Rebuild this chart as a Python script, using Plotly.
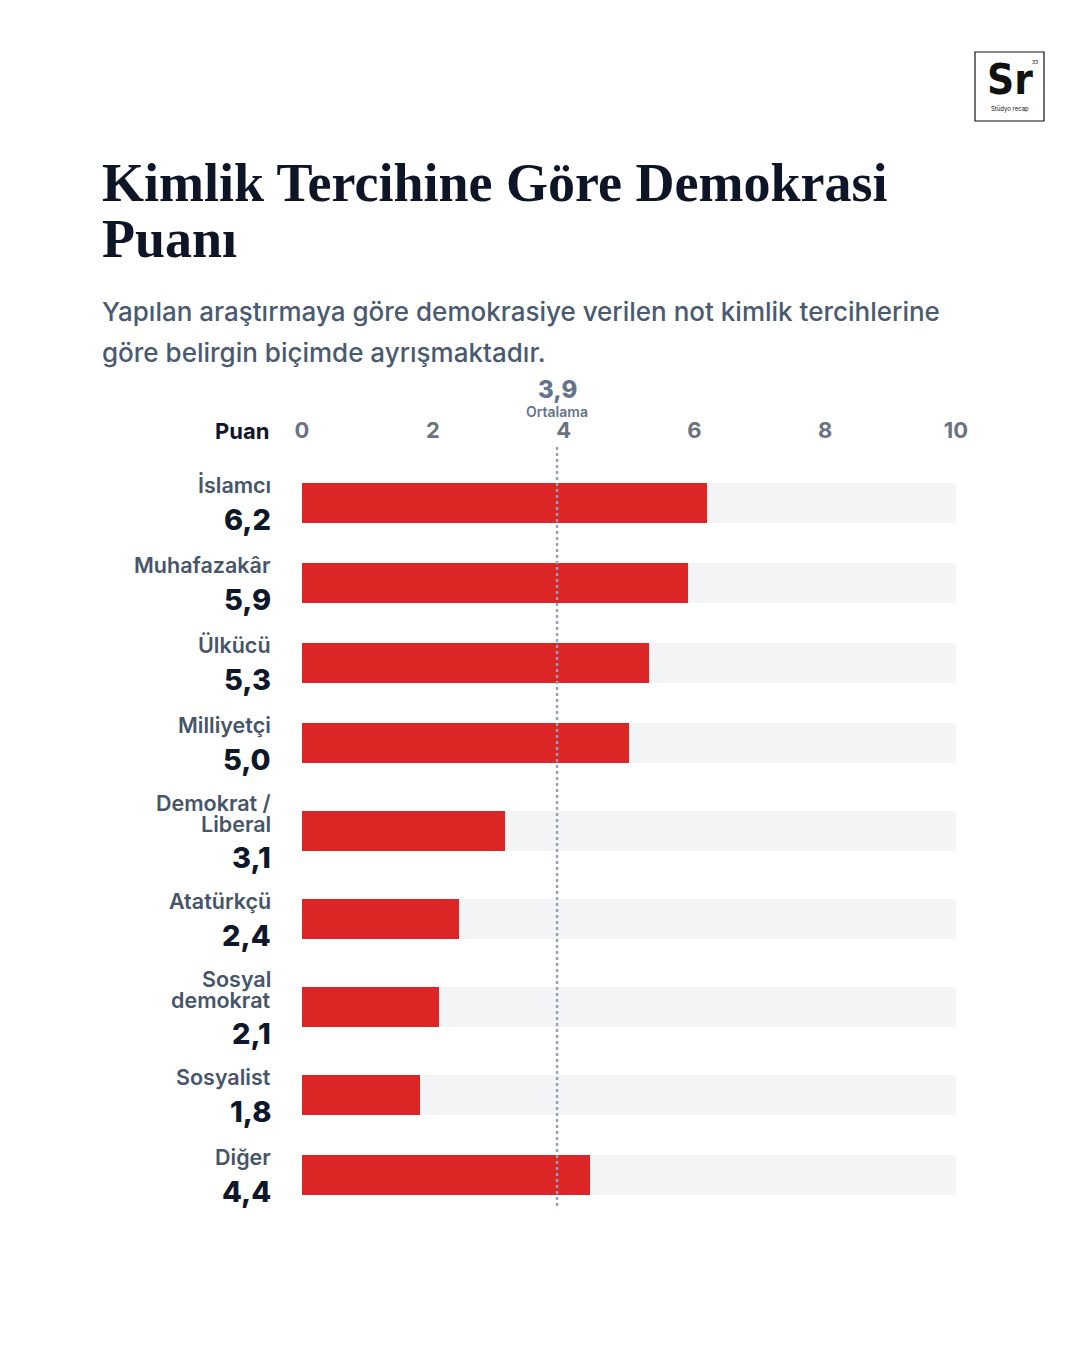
import plotly.graph_objects as go

# ---------------- data ----------------
categories = ["İslamcı", "Muhafazakâr", "Ülkücü", "Milliyetçi", "Demokrat /\nLiberal",
              "Atatürkçü", "Sosyal\ndemokrat", "Sosyalist", "Diğer"]
values = [6.2, 5.9, 5.3, 5.0, 3.1, 2.4, 2.1, 1.8, 4.4]
value_labels = ["6,2", "5,9", "5,3", "5,0", "3,1", "2,4", "2,1", "1,8", "4,4"]
average = 3.9
average_label = "3,9"
scale_max = 10
tick_vals = [0, 2, 4, 6, 8, 10]
tick_text = ["0", "2", "4", "6", "8", "10"]

title_lines = ["Kimlik Tercihine Göre Demokrasi", "Puanı"]
subtitle_lines = ["Yapılan araştırmaya göre demokrasiye verilen not kimlik tercihlerine",
                  "göre belirgin biçimde ayrışmaktadır."]

# ---------------- layout helpers ----------------
W, H = 1080, 1350
L, R, T, B = 302, 956, 445, 1210          # plot area in page pixels
RED = "#dc2626"
TRACK = "#f3f4f6"
DARK = "#0f172a"
SLATE = "#475569"
MUTED = "#64748b"
SANS = "Inter, 'Noto Sans', sans-serif"


def pxp(x, y):
    return (x - L) / (R - L), (B - y) / (B - T)


# row centers (in pixel-like y units) from the number of label lines
name_lines = [c.split("\n") for c in categories]
heights = [80 + 16 * (len(n) - 1) for n in name_lines]
centers = [0.0]
for i in range(1, len(categories)):
    centers.append(centers[-1] + (heights[i - 1] + heights[i]) / 2)

top_pad, bottom_pad = 58, 35
y_range = [centers[-1] + bottom_pad, centers[0] - top_pad]

fig = go.Figure()
fig.add_trace(go.Bar(
    y=centers, x=[scale_max] * len(values), orientation="h", width=40,
    marker=dict(color=TRACK, line=dict(width=0)), hoverinfo="skip", showlegend=False))
fig.add_trace(go.Bar(
    y=centers, x=values, orientation="h", width=40,
    marker=dict(color=RED, line=dict(width=0)), hoverinfo="skip", showlegend=False))

annotations = []
LINE_H = 21
for yc, lines, vlab in zip(centers, name_lines, value_labels):
    n = len(lines)
    block = n * LINE_H + 32
    top = yc - block / 2 + LINE_H / 2 - 2
    for k, ln in enumerate(lines):
        annotations.append(dict(
            x=0, xref="paper", xshift=-30, xanchor="right",
            y=top + k * LINE_H, yref="y", yanchor="middle",
            text=ln, showarrow=False, borderpad=0,
            font=dict(family=SANS, size=21.5, color=SLATE, weight=600)))
    annotations.append(dict(
        x=0, xref="paper", xshift=-30, xanchor="right",
        y=top + (n - 1) * LINE_H + 34, yref="y", yanchor="middle",
        text=vlab, showarrow=False, borderpad=0,
        font=dict(family=SANS, size=29, color=DARK, weight=800)))

# axis caption
px_, py_ = pxp(271, 431)
annotations.append(dict(x=px_, y=py_, xref="paper", yref="paper", xanchor="right",
                        yanchor="middle", text="Puan", showarrow=False,
                        font=dict(family=SANS, size=22, color=DARK, weight=700)))

# average labels
_, ay1 = pxp(0, 389)
_, ay2 = pxp(0, 412)
annotations.append(dict(x=average, xref="x", y=ay1, yref="paper", yanchor="middle",
                        text=average_label, showarrow=False,
                        font=dict(family=SANS, size=24, color=MUTED, weight=800)))
annotations.append(dict(x=average, xref="x", y=ay2, yref="paper", yanchor="middle",
                        text="Ortalama", showarrow=False, borderpad=0,
                        font=dict(family=SANS, size=14, color=MUTED, weight=600)))

# title
for txt, yy in zip(title_lines, [183, 239]):
    tx, ty = pxp(100, yy)
    annotations.append(dict(x=tx, y=ty, xref="paper", yref="paper", xanchor="left",
                            yanchor="middle", text=txt, showarrow=False,
                            font=dict(family="'Liberation Serif', 'DejaVu Serif', serif",
                                      size=54, color="#0d1526", weight=700)))
# subtitle
for txt, yy in zip(subtitle_lines, [311, 352]):
    tx, ty = pxp(100, yy)
    annotations.append(dict(x=tx, y=ty, xref="paper", yref="paper", xanchor="left",
                            yanchor="middle", text=txt, showarrow=False,
                            font=dict(family=SANS, size=26, color="#4a5a70", weight=500)))

# logo
lx0, ly0 = pxp(975, 52)
lx1, ly1 = pxp(1044, 121)
shapes = [dict(type="rect", xref="paper", yref="paper", x0=lx0, x1=lx1, y0=ly1, y1=ly0,
               line=dict(color="#111111", width=1.2), fillcolor="white")]
sx, sy = pxp(1010, 80)
annotations.append(dict(x=sx, y=sy, xref="paper", yref="paper", text="Sr", showarrow=False,
                        xanchor="center", yanchor="middle", borderpad=0,
                        font=dict(family="'DejaVu Sans Condensed', sans-serif",
                                  size=42, color="#111111", weight=700)))
nx, ny = pxp(1035, 62)
annotations.append(dict(x=nx, y=ny, xref="paper", yref="paper", text="33", showarrow=False,
                        xanchor="center", yanchor="middle", borderpad=0,
                        font=dict(family=SANS, size=5, color="#111111")))
cx, cy = pxp(1010, 109)
annotations.append(dict(x=cx, y=cy, xref="paper", yref="paper", text="Stüdyo recap",
                        showarrow=False, xanchor="center", yanchor="middle", borderpad=0,
                        font=dict(family=SANS, size=6, color="#111111")))

# average dotted line (above bars)
shapes.append(dict(type="line", xref="x", yref="paper", x0=average, x1=average,
                   y0=pxp(0, 1206)[1], y1=pxp(0, 444)[1], layer="above",
                   line=dict(color="#94a3b8", width=2.4, dash="dot")))

fig.update_layout(
    width=W, height=H,
    margin=dict(l=L, r=W - R, t=T, b=H - B, pad=0),
    paper_bgcolor="white", plot_bgcolor="white",
    barmode="overlay", bargap=0,
    xaxis=dict(range=[0, scale_max], side="top", tickvals=tick_vals, ticktext=tick_text,
               showgrid=False, zeroline=False, showline=False, ticks="",
               tickfont=dict(family=SANS, size=22, color="#6b7280", weight=700),
               fixedrange=True, ticklabelstandoff=2),
    yaxis=dict(range=y_range, showticklabels=False, showgrid=False, zeroline=False,
               showline=False, ticks="", fixedrange=True),
    annotations=annotations, shapes=shapes,
    showlegend=False,
)

fig.write_html("out.html", config={"displayModeBar": False},
               post_script="document.body.style.margin='0px';document.body.style.overflow='hidden';")
